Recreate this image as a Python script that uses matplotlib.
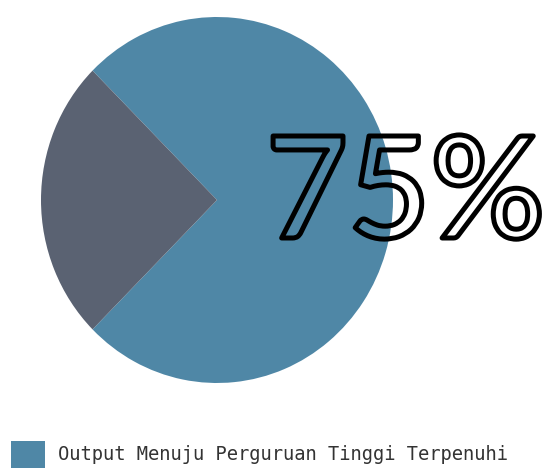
import matplotlib.pyplot as plt
import matplotlib.patheffects as pe

labels = ['Output Menuju Perguruan Tinggi Terpenuhi', '']
values = [75, 25]
colors = ['#4f87a6', '#5a6272']
center_text = '75%'

fig = plt.figure(figsize=(5.55, 4.73), dpi=100)
ax = fig.add_axes([41 / 555, 1 - 383 / 473, 352 / 555, 366 / 473])

wedges, _ = ax.pie(values, colors=colors, startangle=225, counterclock=True,
                   wedgeprops=dict(linewidth=0))
ax.set_aspect('auto')
ax.set_xlim(-1, 1)
ax.set_ylim(-1, 1)
ax.axis('off')

# big outlined percentage, fill left transparent
fig.text(266 / 555, 1 - 238 / 473, center_text, fontsize=102, family='Lato',
         fontweight='semibold', color='none', ha='left', va='baseline',
         path_effects=[pe.Stroke(linewidth=3.6, foreground='black')])

fig.legend([wedges[0]], [labels[0]], loc='upper left',
           bbox_to_anchor=(11 / 555, 1 - 441 / 473), frameon=False,
           borderpad=0, borderaxespad=0, handlelength=1.8, handleheight=1.8,
           handletextpad=0.7, prop=dict(family='DejaVu Sans Mono', size=13.5),
           labelcolor='#333333')

fig.savefig('out.png', dpi=100)
